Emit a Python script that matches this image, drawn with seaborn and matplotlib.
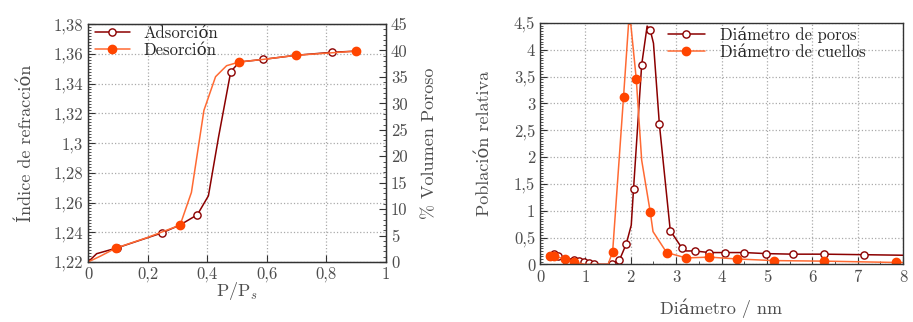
import numpy as np
import pandas as pd
import seaborn as sns
import matplotlib.pyplot as plt
from matplotlib.lines import Line2D
from matplotlib.ticker import MultipleLocator, AutoMinorLocator, FuncFormatter

# isoterma: indice de refraccion frente a P/Ps
ads_x = [0, 0.029, 0.096, 0.15, 0.247, 0.308, 0.367, 0.404, 0.438, 0.479, 0.508, 0.586, 0.698, 0.818, 0.899]
ads_y = [1.220, 1.2256, 1.2294, 1.233, 1.2395, 1.2448, 1.2518, 1.2645, 1.304, 1.348, 1.3545, 1.3562, 1.359, 1.361, 1.3618]
ads_mk = [2, 4, 6, 9, 11, 13]

des_x = [0, 0.04, 0.094, 0.197, 0.309, 0.347, 0.389, 0.428, 0.465, 0.508, 0.586, 0.698, 0.899]
des_y = [1.220, 1.2238, 1.2294, 1.2363, 1.2448, 1.2668, 1.322, 1.3446, 1.352, 1.3545, 1.3562, 1.359, 1.3618]
des_mk = [2, 4, 9, 11, 12]

# distribucion de tamanos
poros_x = [0.22, 0.30, 0.40, 0.55, 0.74, 0.85, 0.96, 1.08, 1.20, 1.35, 1.50, 1.58, 1.75, 1.90, 2.01,
           2.06, 2.24, 2.36, 2.43, 2.50, 2.63, 2.87, 3.13, 3.22, 3.41, 3.73, 4.08, 4.50, 4.99, 5.57,
           6.26, 7.15, 8.0]
poros_y = [0.155, 0.185, 0.16, 0.12, 0.09, 0.07, 0.05, 0.025, 0.005, 0.0, 0.0, 0.01, 0.08, 0.38, 0.73,
           1.40, 3.72, 4.44, 4.36, 4.12, 2.61, 0.63, 0.30, 0.25, 0.25, 0.22, 0.22, 0.22, 0.20, 0.19,
           0.19, 0.18, 0.17]
poros_mk = [0, 1, 2, 4, 5, 6, 7, 8, 11, 12, 13, 15, 16, 18, 20, 21, 22, 24, 25, 26, 27, 28, 29, 30, 31]

cuellos_x = [0.22, 0.30, 0.54, 0.75, 1.0, 1.5, 1.6, 1.84, 1.95, 2.0, 2.12, 2.24, 2.43, 2.49, 2.79,
             3.22, 3.73, 4.35, 5.16, 6.26, 7.85, 8.0]
cuellos_y = [0.155, 0.16, 0.10, 0.04, 0.0, 0.0, 0.235, 3.12, 4.475, 4.475, 3.46, 1.94, 0.97, 0.61, 0.22,
             0.12, 0.135, 0.10, 0.07, 0.06, 0.035, 0.035]
cuellos_mk = [0, 1, 2, 3, 6, 7, 10, 12, 14, 15, 16, 17, 18, 19, 20]

rojo = '#8b0000'
naranja = '#ff4500'
naranja_linea = '#ff6a33'
gris = '#4d4d4d'

sns.set_style('ticks')
plt.rcParams['font.family'] = ['cmr10', 'DejaVu Serif']
plt.rcParams['mathtext.fontset'] = 'cm'
plt.rcParams['axes.unicode_minus'] = False

coma = FuncFormatter(lambda v, p: f'{v:g}'.replace('.', ','))

fig = plt.figure(figsize=(9.13, 3.22), dpi=100)
ax1 = fig.add_axes([0.0964, 0.1863, 0.3264, 0.739])
ax2 = fig.add_axes([0.5915, 0.179, 0.3976, 0.750])


def estilo(ax):
    for s in ax.spines.values():
        s.set_color('#333333')
        s.set_linewidth(1.0)
    ax.grid(True, linestyle=':', color='#aaaaaa', linewidth=0.9)
    ax.tick_params(which='both', direction='in', colors='#333333', labelcolor=gris, labelsize=12)
    ax.tick_params(which='major', length=5)
    ax.tick_params(which='minor', length=2.5)
    ax.xaxis.set_major_formatter(coma)
    ax.yaxis.set_major_formatter(coma)


def curva(ax, x, y, mk, color, lcolor, relleno):
    df = pd.DataFrame({'x': x, 'y': y})
    ms = 6.0 if relleno else 5.2
    fc = color if relleno else 'white'
    sns.lineplot(data=df, x='x', y='y', ax=ax, sort=False, color=lcolor, linewidth=1.1,
                 marker='o', markevery=mk, markersize=ms, markerfacecolor=fc,
                 markeredgecolor=color, markeredgewidth=1.0)
    return Line2D([], [], color=lcolor, linewidth=1.1, marker='o', markersize=ms,
                  markerfacecolor=fc, markeredgecolor=color, markeredgewidth=1.0)


# panel izquierdo
estilo(ax1)
h1 = curva(ax1, ads_x, ads_y, ads_mk, rojo, rojo, False)
h2 = curva(ax1, des_x, des_y, des_mk, naranja, naranja_linea, True)
ax1.set_xlim(0, 1)
ax1.set_ylim(1.22, 1.38)
ax1.xaxis.set_major_locator(MultipleLocator(0.2))
ax1.yaxis.set_major_locator(MultipleLocator(0.02))
ax1.yaxis.set_minor_locator(AutoMinorLocator(10))
ax1.set_xlabel('P/P$_s$', fontsize=13, color=gris, labelpad=-2)
ax1.set_ylabel('Índice de refracción', fontsize=13, color=gris, labelpad=14)
ax1.legend([h1, h2], ['Adsorción', 'Desorción'], loc='upper left', bbox_to_anchor=(0.0, 1.02),
           frameon=False, fontsize=12, handlelength=2.1, handletextpad=0.8, labelspacing=0.08,
           borderaxespad=0.2, borderpad=0.2)

ax1b = ax1.twinx()
ax1b.set_ylim(0, 45)
ax1b.yaxis.set_major_locator(MultipleLocator(5))
ax1b.yaxis.set_minor_locator(AutoMinorLocator(5))
ax1b.tick_params(which='both', direction='in', colors='#333333', labelcolor=gris, labelsize=12)
ax1b.tick_params(which='major', length=5)
ax1b.tick_params(which='minor', length=2.5)
ax1b.set_ylabel('% Volumen Poroso', fontsize=13, color=gris, labelpad=10)
for s in ax1b.spines.values():
    s.set_color('#333333')

# panel derecho
estilo(ax2)
h3 = curva(ax2, poros_x, poros_y, poros_mk, rojo, rojo, False)
h4 = curva(ax2, cuellos_x, cuellos_y, cuellos_mk, naranja, naranja_linea, True)
ax2.set_xlim(0, 8)
ax2.set_ylim(0, 4.5)
ax2.xaxis.set_major_locator(MultipleLocator(1))
ax2.xaxis.set_minor_locator(AutoMinorLocator(2))
ax2.yaxis.set_major_locator(MultipleLocator(0.5))
ax2.yaxis.set_minor_locator(AutoMinorLocator(10))
ax2.set_xlabel('Diámetro / nm', fontsize=13, color=gris, labelpad=10)
ax2.set_ylabel('Población relativa', fontsize=13, color=gris, labelpad=16)
ax2.legend([h3, h4], ['Diámetro de poros', 'Diámetro de cuellos'], loc='upper left',
           bbox_to_anchor=(0.32, 1.035), frameon=False, fontsize=12, handlelength=2.2,
           handletextpad=0.95, labelspacing=0.12, borderpad=0.2)

fig.savefig('out.png', dpi=100)
